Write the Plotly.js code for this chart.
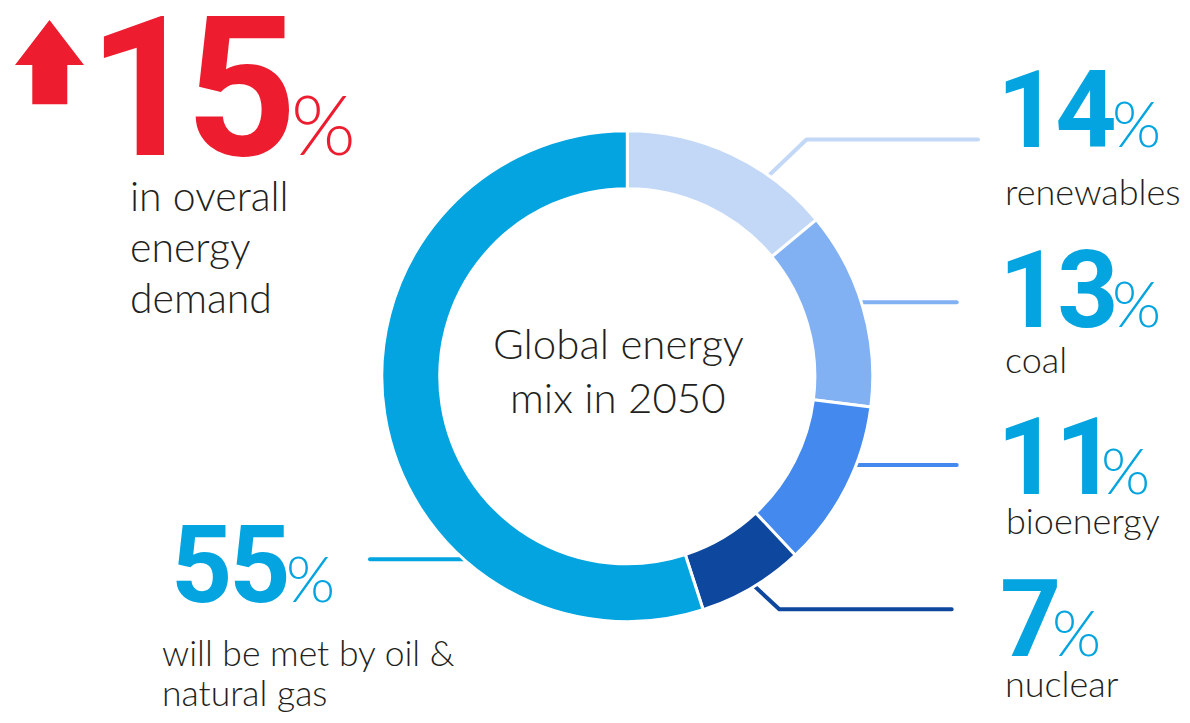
<!DOCTYPE html>
<html>
<head>
<meta charset="utf-8">
<script src="https://cdn.plot.ly/plotly-3.0.1.min.js"></script>
<style>
  html, body { margin: 0; padding: 0; background: #ffffff; }
  #chart { width: 1190px; height: 723px; }
  .shapelayer path { stroke-linecap: round; stroke-linejoin: round; }
</style>
</head>
<body>
<div id="chart"></div>
<script>
// ---------------- DATA ----------------
const categories = ['renewables', 'coal', 'bioenergy', 'nuclear', 'oil & natural gas'];
const shares = [14, 13, 11, 7, 55];
const sliceColors = ['#C3D8F7', '#82B1F3', '#4389EE', '#0E479E', '#03A4DF'];
const demandGrowth = 15;
const demandLines = ['in overall', 'energy', 'demand'];
const centerLines = ['Global energy', 'mix in 2050'];
const rightLabels = ['renewables', 'coal', 'bioenergy', 'nuclear'];
const oilGasLines = ['will be met by oil &', 'natural gas'];

// ---------------- STYLE / LAYOUT ----------------
const W = 1190, H = 723;
const RED = '#ED1C2E', BLUE = '#03A4DF', INK = '#231F20';
const TXT = 'Lato, "Open Sans", sans-serif';
const NUM = 'Roboto, "Open Sans", sans-serif';
const M = {  // font vertical metrics (ascent, descent) as fraction of em
  lato: [0.987, 0.213],
  roboto: [0.928, 0.244]
};
const ring = {cx: 627.3, cy: 376.2, r: 245.5, hole: 0.764};

const px = x => x / W;
const py = y => 1 - y / H;

function ann(text, xLeft, baseline, size, family, weight, color, metrics, anchor) {
  const mid = baseline - (metrics[0] - metrics[1]) / 2 * size;
  return {
    xref: 'paper', yref: 'paper', x: px(xLeft), y: py(mid),
    xanchor: anchor || 'left', yanchor: 'middle', showarrow: false,
    text: text, borderpad: 0,
    font: {family: family, size: size, weight: weight, color: color}
  };
}
function numText(v, ls) {
  return '<span style="letter-spacing:' + ls + 'em">' + v + '</span>';
}

// positions of the big numbers / percent signs / labels (pixels)
const numPos = [ // [xLeft, baseline, size, letterSpacing, pctX, pctSize, labelX, labelBaseline]
  [996, 147.3, 107, -0.03, 1111, 63, 1004, 205],
  [998, 326.7, 107, -0.03, 1111, 63, 1004, 373.3],
  [996, 494.3, 107, -0.03, 1100, 63, 1005, 534.3],
  [999, 656, 107, -0.03, 1051, 63, 1004, 696.7]
];
const NUMW = 700;

const annotations = [];
numPos.forEach((p, i) => {
  annotations.push(ann(numText(shares[i], p[3]), p[0], p[1], p[2], NUM, NUMW, BLUE, M.roboto));
  annotations.push(ann('%', p[4], p[1], p[5], TXT, 300, BLUE, M.lato));
  annotations.push(ann(rightLabels[i], p[6], p[7], 36, TXT, 300, INK, M.lato));
});
// oil & gas (55%)
annotations.push(ann(numText(shares[4], -0.03), 170, 601.7, 107, NUM, NUMW, BLUE, M.roboto));
annotations.push(ann('%', 285, 601.7, 63, TXT, 300, BLUE, M.lato));
annotations.push(ann(oilGasLines[0], 160.5, 666.7, 35.5, TXT, 300, INK, M.lato));
annotations.push(ann(oilGasLines[1], 160.5, 706.7, 35.5, TXT, 300, INK, M.lato));
// demand growth (15%)
annotations.push(ann(numText(demandGrowth, -0.07), 87, 155, 194, NUM, NUMW, RED, M.roboto));
annotations.push(ann('%', 290, 155, 83, TXT, 300, RED, M.lato));
[211, 262, 313].forEach((b, i) => {
  annotations.push(ann(demandLines[i], 128.5, b, 41, TXT, 300, INK, M.lato));
});
// centre text
[359, 413].forEach((b, i) => {
  annotations.push(ann(centerLines[i], 618, b, 42, TXT, 300, INK, M.lato, 'center'));
});

// leader lines (pixels) drawn beneath the ring
const leaders = [
  [[762, 182], [806.5, 139.5], [978, 139.5]],
  [[845, 302.3], [956.7, 302.3]],
  [[845, 465], [956.7, 465]],
  [[747.7, 579.9], [779.3, 609.3], [951.7, 609.3]],
  [[475, 559.3], [370, 559.3]]
];
const leaderColors = [sliceColors[0], sliceColors[1], sliceColors[2], sliceColors[3], sliceColors[4]];
function pathOf(pts, close) {
  return pts.map((p, i) => (i ? 'L' : 'M') + px(p[0]).toFixed(5) + ',' + py(p[1]).toFixed(5)).join(' ') + (close ? ' Z' : '');
}
const shapes = leaders.map((pts, i) => ({
  type: 'path', xref: 'paper', yref: 'paper', layer: 'below',
  path: pathOf(pts), line: {color: leaderColors[i], width: 4}
}));
// red up arrow
shapes.push({
  type: 'path', xref: 'paper', yref: 'paper', layer: 'above',
  path: pathOf([[49.5, 20], [84, 65], [67.3, 65], [67.3, 104.3], [32.3, 104.3], [32.3, 65], [15, 65]], true),
  fillcolor: RED, line: {width: 0}
});

const trace = {
  type: 'pie',
  labels: categories,
  values: shares,
  sort: false,
  direction: 'clockwise',
  rotation: 0,
  hole: ring.hole,
  textinfo: 'none',
  hoverinfo: 'label+percent',
  showlegend: false,
  marker: {colors: sliceColors, line: {color: '#ffffff', width: 3}},
  domain: {
    x: [px(ring.cx - ring.r), px(ring.cx + ring.r)],
    y: [py(ring.cy + ring.r), py(ring.cy - ring.r)]
  }
};

const layout = {
  width: W, height: H,
  margin: {l: 0, r: 0, t: 0, b: 0, pad: 0},
  paper_bgcolor: '#ffffff',
  plot_bgcolor: '#ffffff',
  showlegend: false,
  annotations: annotations,
  shapes: shapes
};

Plotly.newPlot('chart', [trace], layout, {staticPlot: true, displayModeBar: false});
</script>
</body>
</html>
